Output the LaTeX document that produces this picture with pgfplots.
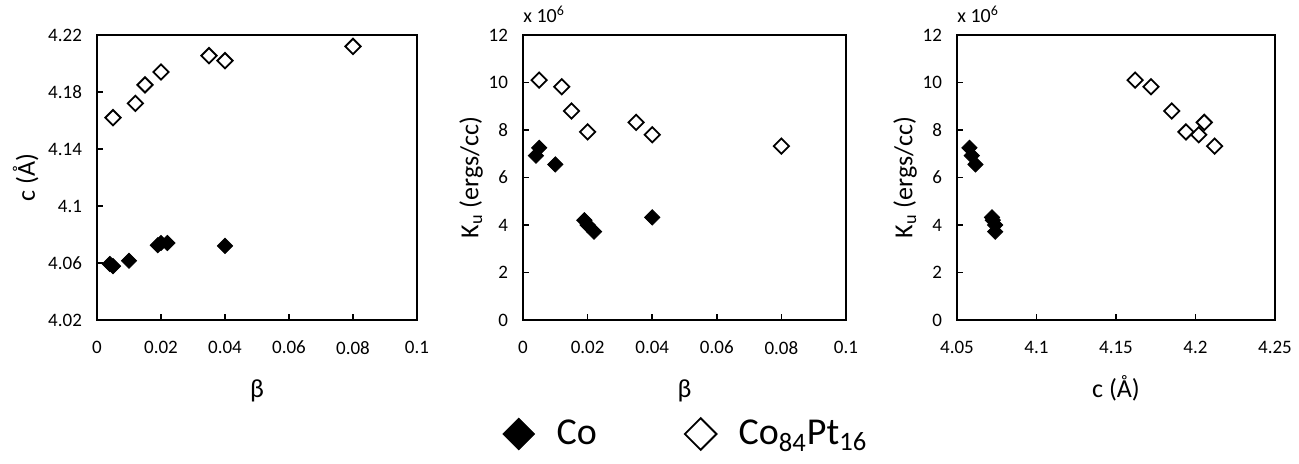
\documentclass[border=0pt]{standalone}
\usepackage{fontspec}
\setmainfont{Carlito}
\usepackage{pgfplots}
\pgfplotsset{compat=1.18}

% c (A) vs beta
\pgfplotstableread{
b      c      Ku
0.005  4.162  10.1
0.012  4.172  9.82
0.015  4.185  8.8
0.020  4.194  7.92
0.035  4.2055 8.32
0.040  4.202  7.8
0.080  4.212  7.32
}\copt
\pgfplotstableread{
b      c      Ku
0.004  4.0593 6.92
0.005  4.0578 7.25
0.010  4.0616 6.55
0.019  4.0725 4.2
0.020  4.074  4.0
0.022  4.074  3.72
0.040  4.072  4.32
}\co

\pgfplotsset{
  panel/.style={
    scale only axis,
    anchor=south west,
    axis line style={line width=1pt},
    tick style={black, line width=0.8pt},
    major tick length=2.8pt,
    tick align=inside,
    xtick pos=bottom, ytick pos=left,
    ticklabel style={font=\fontsize{9.5}{11}\selectfont},
    label style={font=\fontsize{13}{15}\selectfont},
    /pgf/number format/assume math mode=true,
    xticklabel style={yshift=-7pt},
    yticklabel style={xshift=-4pt},
    scaled ticks=false,
    clip=false,
  },
  filled/.style={only marks, mark=square*, mark size=2.7pt,
    mark options={rotate=45, fill=black, draw=black}},
  open/.style={only marks, mark=square, mark size=2.7pt,
    mark options={rotate=45, draw=black, line width=0.9pt, fill=white}},
}

\begin{document}
\begin{tikzpicture}
\useasboundingbox (0,0) rectangle (649.5pt,232pt);

\begin{axis}[panel, at={(48.5pt,72pt)}, width=160pt, height=142.5pt,
  xmin=0, xmax=0.1, ymin=4.02, ymax=4.22,
  xtick={0,0.02,...,0.1}, xticklabels={0,0.02,0.04,0.06,0.08,0.1},
  ytick={4.02,4.06,4.1,4.14,4.18,4.22},
  yticklabels={4.02,4.06,4.1,4.14,4.18,4.22},
  xlabel={β}, ylabel={c (Å)},
  xlabel style={yshift=-6pt}, ylabel style={yshift=-2pt}]
\addplot[open] table[x=b, y=c] {\copt};
\addplot[filled] table[x=b, y=c] {\co};
\end{axis}

\begin{axis}[panel, at={(261.5pt,72pt)}, width=161.5pt, height=142.5pt,
  xmin=0, xmax=0.1, ymin=0, ymax=12,
  xtick={0,0.02,...,0.1}, xticklabels={0,0.02,0.04,0.06,0.08,0.1},
  ytick={0,2,...,12},
  xlabel={β}, ylabel={K\textsubscript{u} (ergs/cc)},
  xlabel style={yshift=-6pt}, ylabel style={yshift=-4pt},
  legend columns=2,
  legend style={at={(0.508,-0.40)}, anchor=center, draw=none,
    font=\fontsize{19}{22}\selectfont,
    /tikz/every even column/.append style={column sep=42pt}},
  legend cell align=left]
\addplot[open, forget plot] table[x=b, y=Ku] {\copt};
\addplot[filled, forget plot] table[x=b, y=Ku] {\co};
\addlegendimage{only marks, mark=square*, mark size=5.6pt, mark options={rotate=45, fill=black}}
\addlegendentry{\hspace{9pt}Co}
\addlegendimage{only marks, mark=square, mark size=5.6pt, mark options={rotate=45, line width=0.9pt}}
\addlegendentry{\hspace{9pt}Co\textsubscript{84}Pt\textsubscript{16}}
\node[anchor=south west, font=\fontsize{10}{12}\selectfont, inner sep=0pt]
  at (rel axis cs:0,1) [yshift=6pt] {x 10\textsuperscript{6}};
\end{axis}

\begin{axis}[panel, at={(478.5pt,72pt)}, width=159pt, height=142.5pt,
  xmin=4.05, xmax=4.25, ymin=0, ymax=12,
  xtick={4.05,4.1,4.15,4.2,4.25},
  xticklabels={4.05,4.1,4.15,4.2,4.25},
  ytick={0,2,...,12},
  xlabel={c (Å)}, ylabel={K\textsubscript{u} (ergs/cc)},
  xlabel style={yshift=-4pt}, ylabel style={yshift=-4pt}]
\addplot[open] table[x=c, y=Ku] {\copt};
\addplot[filled] table[x=c, y=Ku] {\co};
\node[anchor=south west, font=\fontsize{10}{12}\selectfont, inner sep=0pt]
  at (rel axis cs:0,1) [yshift=6pt] {x 10\textsuperscript{6}};
\end{axis}
\end{tikzpicture}
\end{document}
